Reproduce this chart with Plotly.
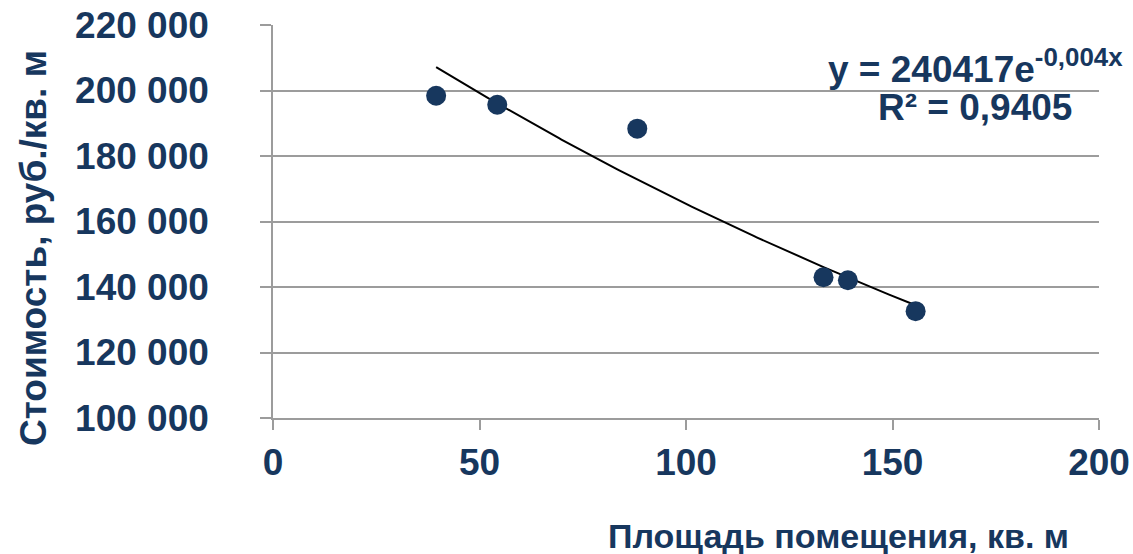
import numpy as np
import plotly.graph_objects as go

# Data
area = [39.5, 54.3, 88.2, 133.3, 139.2, 155.6]
price = [198400, 195650, 188340, 142980, 142070, 132630]

x_ticks = [0, 50, 100, 150, 200]
x_tick_text = ["0", "50", "100", "150", "200"]
y_ticks = [100000, 120000, 140000, 160000, 180000, 200000, 220000]
y_tick_text = ["100 000", "120 000", "140 000", "160 000", "180 000", "200 000", "220 000"]

eq_text = "y = 240417e<sup>-0,004x</sup>"
r2_text = "R² = 0,9405"
x_title = "Площадь помещения, кв. м"
y_title = "Стоимость, руб./кв. м"

# Exponential trendline fitted to the data (log-linear least squares)
b, ln_a = np.polyfit(np.array(area), np.log(np.array(price)), 1)
tx = np.linspace(min(area), max(area), 200)
ty = np.exp(ln_a) * np.exp(b * tx)

navy = "#17375E"
grid = "#9c9c9c"
font_family = "Liberation Sans, Arial, sans-serif"

L, R, T, B = 273, 34, 25, 136
PW, PH = 1133 - L - R, 554 - T - B


def px(xp):
    return (xp - L) / PW


def py(yp):
    return (554 - B - yp) / PH


fig = go.Figure()
fig.add_trace(go.Scatter(x=tx, y=ty, mode="lines",
                         line=dict(color="black", width=2), hoverinfo="skip"))
fig.add_trace(go.Scatter(x=area, y=price, mode="markers",
                         marker=dict(color=navy, size=20)))

fig.update_layout(
    width=1133, height=554,
    margin=dict(l=L, r=R, t=T, b=B),
    paper_bgcolor="white", plot_bgcolor="white",
    showlegend=False,
    font=dict(family=font_family, color=navy),
    xaxis=dict(range=[0, 200], tickvals=x_ticks, ticktext=x_tick_text, automargin=False,
               showgrid=False, zeroline=False, showline=True, linecolor=grid, linewidth=1.5,
               ticks="outside", ticklen=10, tickcolor=grid, tickwidth=1.5,
               ticklabelstandoff=1,
               tickfont=dict(size=37, color=navy, family=font_family, weight="bold")),
    yaxis=dict(range=[100000, 220000], tickvals=y_ticks, ticktext=y_tick_text, automargin=False,
               showgrid=True, gridcolor=grid, gridwidth=1.5, zeroline=False,
               showline=True, linecolor=grid, linewidth=1.5,
               ticks="outside", ticklen=11, tickcolor=grid, tickwidth=1.5,
               ticklabelstandoff=44,
               tickfont=dict(size=37, color=navy, family=font_family, weight="bold")),
    annotations=[
        dict(text="<b>" + eq_text + "</b>", xref="paper", yref="paper",
             x=px(975), y=py(66), xanchor="center", yanchor="middle",
             showarrow=False, font=dict(size=37, color=navy, family=font_family)),
        dict(text="<b>" + r2_text + "</b>", xref="paper", yref="paper",
             x=px(975), y=py(108), xanchor="center", yanchor="middle",
             showarrow=False, font=dict(size=37, color=navy, family=font_family)),
        dict(text="<b>" + x_title + "</b>", xref="paper", yref="paper",
             x=px(1071), y=py(536), xanchor="right", yanchor="middle",
             showarrow=False, font=dict(size=34, color=navy, family=font_family)),
        dict(text="<b>" + y_title + "</b>", xref="paper", yref="paper",
             x=px(33), y=py(248), xanchor="center", yanchor="middle",
             textangle=-90, showarrow=False, font=dict(size=37, color=navy, family=font_family)),
    ],
)

fig.write_html("out.html", config={"displayModeBar": False},
               post_script="document.body.style.margin='0';document.body.style.overflow='hidden';")
